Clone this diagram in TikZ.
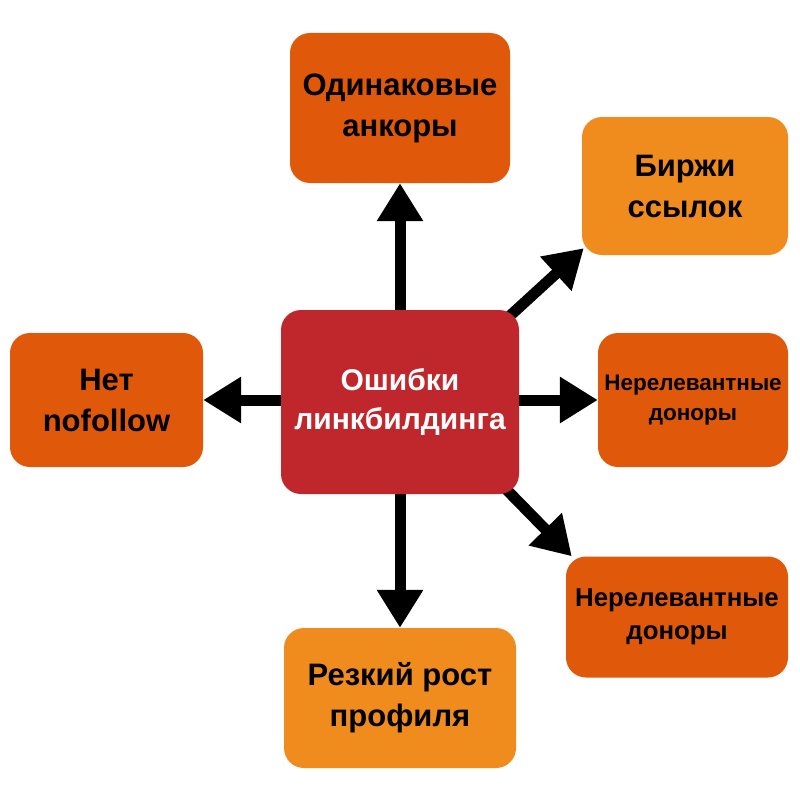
\documentclass[tikz,border=0pt]{standalone}
\usepackage{fontspec}
\setmainfont{Liberation Sans}
\usetikzlibrary{arrows.meta,backgrounds}
\definecolor{darkor}{HTML}{E0590B}
\definecolor{lightor}{HTML}{F08B1D}
\definecolor{centred}{HTML}{C0272C}
\tikzset{
  box/.style={draw=none,rounded corners=20pt,align=center,inner sep=0pt,font=\bfseries\fontsize{31}{41}\selectfont},
  dbox/.style={box,fill=darkor},
  lbox/.style={box,fill=lightor},
  arr/.style={line width=11pt,-{Triangle[width=44pt,length=38pt]}}
}
\begin{document}
\begin{tikzpicture}[x=1pt,y=-1pt]
\useasboundingbox (0,0) rectangle (800,800);
\node[box,fill=centred,text=white,minimum width=238pt,minimum height=184pt,font=\bfseries\fontsize{30}{39}\selectfont] (c) at (400,402) {Ошибки\\линкбилдинга};
\node[dbox,minimum width=220pt,minimum height=150pt] (t) at (400,108) {Одинаковые\\анкоры};
\node[lbox,minimum width=206pt,minimum height=138pt] (b) at (685,186) {Биржи\\ссылок};
\node[dbox,minimum width=190pt,minimum height=134pt,font=\bfseries\fontsize{22.5}{30}\selectfont] (r) at (693,400) {Нерелевантные\\доноры};
\node[dbox,minimum width=222pt,minimum height=121pt,font=\bfseries\fontsize{25.8}{33}\selectfont] (lr) at (677,617) {Нерелевантные\\доноры};
\node[lbox,minimum width=232pt,minimum height=140pt] (bt) at (400,698) {Резкий рост\\профиля};
\node[dbox,minimum width=193pt,minimum height=134pt] (l) at (106.5,400) {Нет\\nofollow};
\begin{scope}[on background layer]
\fill[white] (0,0) rectangle (800,800);
\draw[arr] (c.north) -- (t.south);
\draw[arr] (c.south) -- (bt.north);
\draw[arr] (c.west |- l.east) -- (l.east);
\draw[arr] (c.east |- r.west) -- (r.west);
\draw[arr] ([shift={(-18,14)}]c.north east) -- ([shift={(2,-7)}]b.south west);
\draw[arr] ([shift={(-18,-10)}]c.south east) -- ([shift={(6,0)}]lr.north west);
\end{scope}
\end{tikzpicture}
\end{document}
